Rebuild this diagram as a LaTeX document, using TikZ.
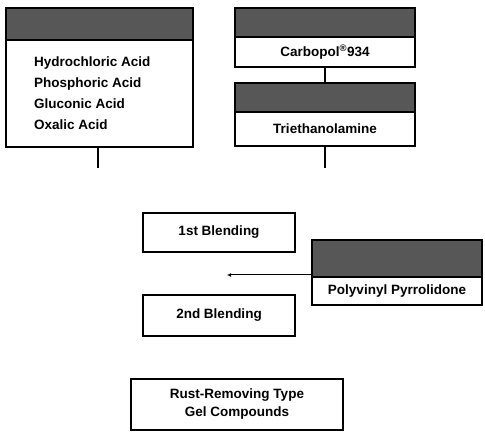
\documentclass[tikz,border=0pt]{standalone}
\usepackage{fontspec}
\setmainfont{Liberation Sans}
\usetikzlibrary{arrows.meta}
\begin{document}
\begin{tikzpicture}[x=1pt,y=-1pt,
  hdr/.style={draw=black,line width=1.3pt,fill=black!66,minimum width=#1,inner sep=0pt},
  body/.style={draw=black,line width=1.3pt,fill=white,minimum width=#1,inner sep=0pt,font=\fontsize{13.5}{15}\selectfont\bfseries},
  lbl/.style={inner sep=0pt,font=\fontsize{13.5}{20.7}\selectfont\bfseries},
  conn/.style={line width=1.2pt},
  arr/.style={line width=1pt,-{Latex[length=4pt,width=4pt]}}]
\useasboundingbox (0,0) rectangle (485,443);
% acids
\node[hdr=187pt,minimum height=32pt] (ah) at (99.5,24) {};
\node[body=187pt,minimum height=107pt] (ab) at (99.5,93.5) {};
\node[lbl,align=left,anchor=north west] (al) at (34,57) {Hydrochloric Acid\\Phosphoric Acid\\Gluconic Acid\\Oxalic Acid};
\coordinate (ae) at (98,168);
\draw[conn] (ab.south -| ae) -- (ae);
% carbopol
\node[hdr=180pt,minimum height=29pt] (ch) at (325,22.5) {};
\node[body=180pt,minimum height=30pt] (cb) at (325,52) {Carbopol\textsuperscript{\textregistered}934};
\node[hdr=180pt,minimum height=29pt] (th) at (325,97.5) {};
\node[body=180pt,minimum height=34pt] (tb) at (325,129) {Triethanolamine};
\draw[conn] (cb.south) -- (th.north);
\coordinate (te) at (325,168);
\draw[conn] (tb.south) -- (te);
% blending
\node[body=152pt,minimum height=39pt] (b1) at (219,232.5) {1st Blending};
\node[body=152pt,minimum height=41pt] (b2) at (219,315.5) {2nd Blending};
% pvp
\node[hdr=170pt,minimum height=37pt] (ph) at (397,258.5) {};
\node[body=170pt,minimum height=28pt] (pb) at (397,291) {Polyvinyl Pyrrolidone};
\coordinate (pe) at (227,275);
\draw[arr] (pb.north west |- pe) -- (pe);
% result
\node[body=212pt,minimum height=51pt,align=center,font=\fontsize{13.5}{18}\selectfont\bfseries] (res) at (237,404.5) {Rust-Removing Type\\Gel Compounds};
\end{tikzpicture}
\end{document}
